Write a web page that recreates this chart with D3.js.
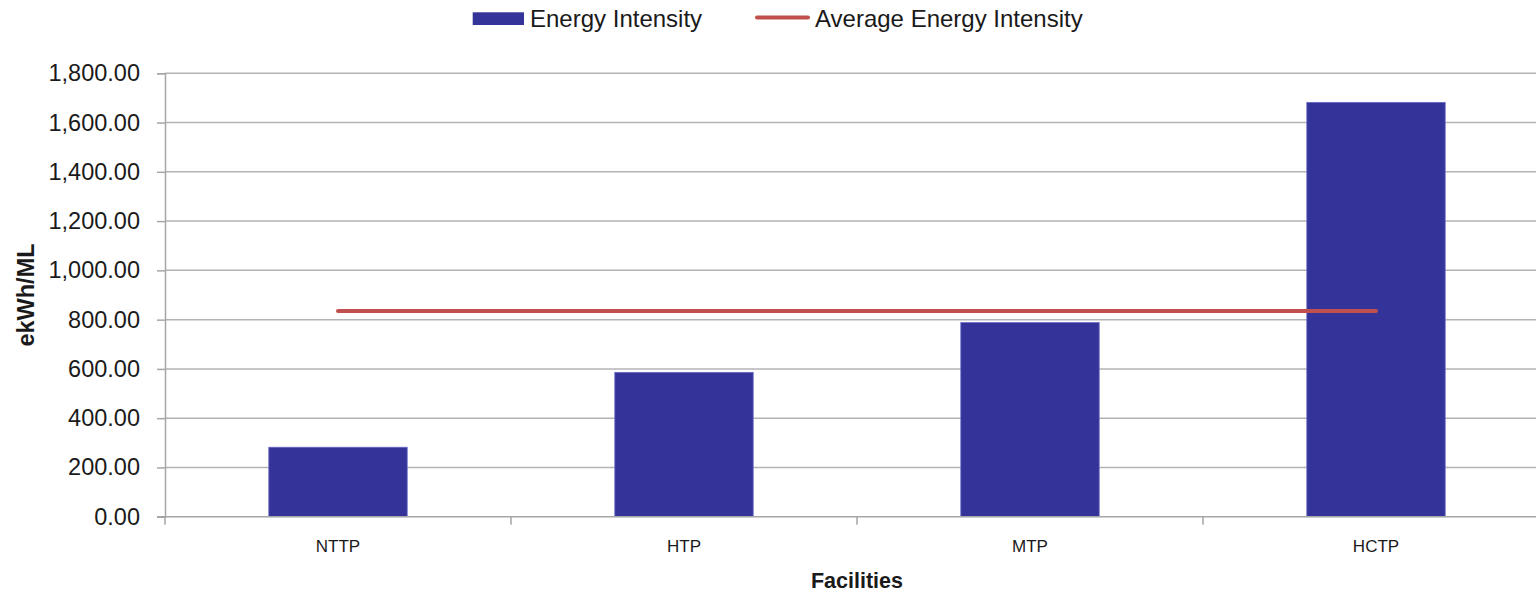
<!DOCTYPE html>
<html><head><meta charset="utf-8">
<script src="https://cdn.jsdelivr.net/npm/d3@7"></script>
<style>body{margin:0;background:#fff}svg{display:block}text{font-family:"Liberation Sans",Arial,sans-serif;fill:#1a1a1a}</style>
</head><body><svg id="c" width="1536" height="596"></svg>
<script>
const categories = ["NTTP","HTP","MTP","HCTP"];
const energyIntensity = [282, 586, 788, 1682];
const averageIntensity = [835, 835, 835, 835];
const yTicks = [0,200,400,600,800,1000,1200,1400,1600,1800];
const seriesNames = ["Energy Intensity","Average Energy Intensity"];

(function(){
const svg = d3.select("#c");
const pLeft = 165, pRight = 1549, pTop = 73.3, pBottom = 516.7;
const x = d3.scaleBand().domain(categories).range([pLeft, pRight]).padding(0);
const y = d3.scaleLinear().domain([0,1800]).range([pBottom, pTop]);
const fmt = d3.format(",.2f");

// gridlines
svg.append("g").selectAll("line").data(yTicks.filter(d=>d>0)).join("line")
  .attr("x1", pLeft).attr("x2", pRight)
  .attr("y1", d=>y(d)).attr("y2", d=>y(d))
  .attr("stroke","#b3b3b3").attr("stroke-width",1.5);

// y axis
const ya = svg.append("g").attr("transform",`translate(${pLeft},0)`)
  .call(d3.axisLeft(y).tickValues(yTicks).tickFormat(fmt).tickSize(8).tickPadding(17));
ya.select(".domain").attr("stroke","#a6a6a6").attr("stroke-width",1.5);
ya.selectAll(".tick line").attr("stroke","#a6a6a6").attr("stroke-width",1.5);
ya.selectAll(".tick text").attr("font-size","23.5px").attr("fill","#1a1a1a").attr("font-family","Liberation Sans, Arial, sans-serif");

// bars
const bw = x.bandwidth()*0.4;
svg.append("g").selectAll("rect").data(categories).join("rect")
  .attr("x", (d)=>x(d)+x.bandwidth()/2-bw/2)
  .attr("width", bw)
  .attr("y", (d,i)=>y(energyIntensity[i]))
  .attr("height", (d,i)=>y(0)-y(energyIntensity[i]))
  .attr("fill","#333399").attr("stroke","#6a6ac8").attr("stroke-width",0.8);

// x axis
const xa = svg.append("g").attr("transform",`translate(0,${pBottom})`);
xa.append("line").attr("x1",pLeft-8).attr("x2",pRight).attr("y1",0).attr("y2",0)
  .attr("stroke","#a6a6a6").attr("stroke-width",1.5);
const bounds = categories.map(c=>x(c)).concat([x(categories[categories.length-1])+x.bandwidth()]);
xa.selectAll("line.t").data(bounds).join("line").attr("class","t")
  .attr("x1",d=>d).attr("x2",d=>d).attr("y1",0).attr("y2",8)
  .attr("stroke","#a6a6a6").attr("stroke-width",1.5);
xa.selectAll("text").data(categories).join("text")
  .attr("x", d=>x(d)+x.bandwidth()/2).attr("y", 35)
  .attr("text-anchor","middle").attr("font-size","17px").text(d=>d);

// average line
const line = d3.line().x((d,i)=>x(categories[i])+x.bandwidth()/2).y(d=>y(d));
svg.append("path").datum(averageIntensity).attr("d", line)
  .attr("fill","none").attr("stroke","#C0504D").attr("stroke-width",4).attr("stroke-linecap","round");

// axis titles
svg.append("text").attr("transform","translate(34,295) rotate(-90)")
  .attr("text-anchor","middle").attr("font-weight","bold").attr("font-size","23.5px").text("ekWh/ML");
svg.append("text").attr("x",857).attr("y",588)
  .attr("text-anchor","middle").attr("font-weight","bold").attr("font-size","21.5px").text("Facilities");

// legend
const lg = svg.append("g");
lg.append("rect").attr("x",472.7).attr("y",12.3).attr("width",51.3).attr("height",12.7).attr("fill","#333399");
lg.append("text").attr("x",530).attr("y",26.7).attr("font-size","24px").text(seriesNames[0]);
lg.append("line").attr("x1",757).attr("x2",808).attr("y1",17.5).attr("y2",17.5)
  .attr("stroke","#C0504D").attr("stroke-width",4).attr("stroke-linecap","round");
lg.append("text").attr("x",815).attr("y",26.7).attr("font-size","24px").text(seriesNames[1]);
})();
</script></body></html>
